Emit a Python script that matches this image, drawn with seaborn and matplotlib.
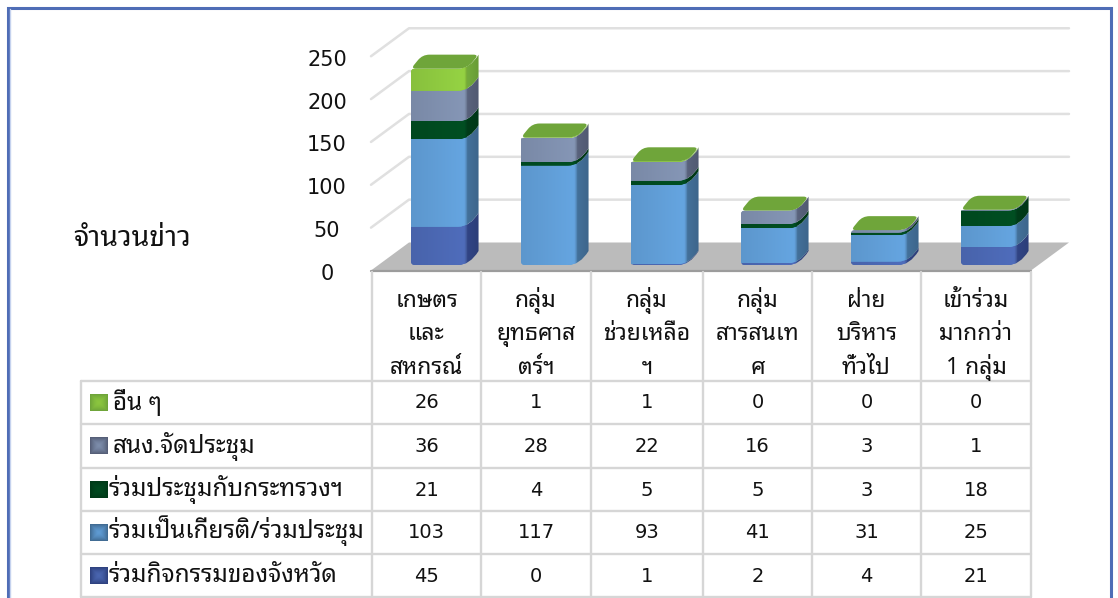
import matplotlib
matplotlib.use('Agg')
import numpy as np
import pandas as pd
import matplotlib.pyplot as plt
import seaborn as sns
from matplotlib.path import Path
from matplotlib.patches import PathPatch, Polygon
from matplotlib.colors import to_rgb

W, H = 1118, 598
THAI = ['Noto Sans Thai Looped', 'Loma', 'Noto Sans Thai', 'DejaVu Sans']
NUM = ['DejaVu Sans']

# ---------- data ----------
categories = ['เกษตร\nและ\nสหกรณ์', 'กลุ่ม\nยุทธศาส\nตร์ฯ', 'กลุ่ม\nช่วยเหลือ\nฯ',
              'กลุ่ม\nสารสนเท\nศ', 'ฝ่าย\nบริหาร\nทั่วไป', 'เข้าร่วม\nมากกว่า\n1 กลุ่ม']
s_province = [45, 0, 1, 2, 4, 21]
s_honor = [103, 117, 93, 41, 31, 25]
s_ministry = [21, 4, 5, 5, 3, 18]
s_office = [36, 28, 22, 16, 3, 1]
s_other = [26, 1, 1, 0, 0, 0]
series_names = ['ร่วมกิจกรรมของจังหวัด', 'ร่วมเป็นเกียรติ/ร่วมประชุม', 'ร่วมประชุมกับกระทรวงฯ',
                'สนง.จัดประชุม', 'อื่น ๆ']
series_values = [s_province, s_honor, s_ministry, s_office, s_other]
y_ticks = [0, 50, 100, 150, 200, 250]
y_title = 'จำนวนข่าว'

front_cols = ['#4A66B0', '#5F9BD3', '#004A20', '#7D8DAB', '#8CC63F']
side_cols = ['#2F4280', '#416C94', '#003A18', '#565F78', '#6FA53A']
top_col = '#6FA53A'
INK = '#111111'

sns.set_theme(style='white')
plt.rcParams['font.family'] = THAI
fig = plt.figure(figsize=(W / 100, H / 100), dpi=100, facecolor='white')

def px_axes(l, t, r, b):
    return fig.add_axes([l / W, 1 - b / H, (r - l) / W, (b - t) / H])

bg = fig.add_axes([0, 0, 1, 1], zorder=0)
bg.set_xlim(0, W); bg.set_ylim(H, 0); bg.axis('off')

PX = 0.85
SX = 110.0
Y0 = 265
ax = px_axes(384, Y0 - 250 * PX, 1044, Y0)
ax.set_zorder(1); ax.patch.set_alpha(0)

# frame
FR = '#4F6DB6'
bg.plot([8, 8, 1111, 1111], [H + 3, 7.5, 7.5, H + 3], color=FR, lw=2.2, solid_joinstyle='miter')
bg.plot([10, 10], [9, H + 3], color='#C5D2EE', lw=1)

# walls and floor
FX, FY0 = 371, 270.5
FW = 660
DX, DY = 38, -28
FSCALE = 0.857
GRID = '#E0E0E0'
bg.add_patch(Polygon([(FX, FY0), (FX + DX, FY0 + DY), (FX + DX + FW, FY0 + DY), (FX + FW, FY0)],
                     closed=True, fc='#BBBBBB', ec='none', zorder=1))
bg.plot([FX, FX + FW], [FY0, FY0], color='#9C9C9C', lw=1.6, zorder=2)
for v in y_ticks:
    yf = FY0 - v * FSCALE
    if v > 0:
        bg.plot([FX, FX + DX, FX + DX + FW], [yf, yf + DY, yf + DY], color=GRID, lw=1.8, zorder=1)
    bg.text(327, yf + 3.5, str(v), ha='center', va='center', fontsize=15,
            family=NUM, color=INK)
bg.text(132, 246, y_title, ha='center', va='baseline', fontsize=20.5, color=INK)

# stacked bars: fronts through seaborn
rows = []
bottoms = np.zeros(len(categories))
for name, vals in zip(series_names, series_values):
    for i, v in enumerate(vals):
        rows.append(dict(cat=i, series=name, value=v, bottom=bottoms[i]))
    bottoms = bottoms + np.array(vals)
df = pd.DataFrame(rows)
BW = 0.51
for k, name in enumerate(series_names):
    d = df[df.series == name]
    sns.barplot(data=d, x='cat', y='value', bottom=d['bottom'].values, color=front_cols[k],
                width=BW, saturation=1, ax=ax, errorbar=None, linewidth=0, zorder=2)
ax.set_xlim(-0.5, 5.5)
ax.set_ylim(0, 250)
ax.axis('off')

dx = 11.5 / SX
dy = 14 / PX
RC = 9 / SX       # how far the corner bend reaches into the front face

def silhouette(x0, x1, total):
    rx, ry = 4 / SX, 4 / PX
    v = [(x0 + rx, 0), (x1 - RC, 0), (x1 + 0.25 * dx, 0), (x1 + dx, dy),
         (x1 + dx, total + dy), (x1 + 0.25 * dx, total), (x1 - RC, total),
         (x0 + rx, total), (x0, total), (x0, total - ry), (x0, ry), (x0, 0), (x0 + rx, 0), (x0 + rx, 0)]
    c = [Path.MOVETO, Path.LINETO, Path.CURVE3, Path.CURVE3,
         Path.LINETO, Path.CURVE3, Path.CURVE3,
         Path.LINETO, Path.CURVE3, Path.CURVE3, Path.LINETO, Path.CURVE3, Path.CURVE3, Path.CLOSEPOLY]
    return Path(v, c)

def bevel_path(x0, x1, b, t, first, last):
    rx, ry = 4 / SX, 4 / PX
    v, c = [], []
    if first:
        v += [(x0 + rx, b)]; c += [Path.MOVETO]
    else:
        v += [(x0, b)]; c += [Path.MOVETO]
    v += [(x1 - RC, b), (x1 + 0.25 * dx, b), (x1 + dx, b + dy),
          (x1 + dx, t + dy), (x1 + 0.25 * dx, t), (x1 - RC, t)]
    c += [Path.LINETO, Path.CURVE3, Path.CURVE3, Path.LINETO, Path.CURVE3, Path.CURVE3]
    if last:
        v += [(x0 + rx, t), (x0, t), (x0, t - ry)]
        c += [Path.LINETO, Path.CURVE3, Path.CURVE3]
    else:
        v += [(x0, t)]; c += [Path.LINETO]
    if first:
        v += [(x0, b + ry), (x0, b), (x0 + rx, b)]
        c += [Path.LINETO, Path.CURVE3, Path.CURVE3]
    v += [v[0]]; c += [Path.CLOSEPOLY]
    return Path(v, c)

def top_path(x0, x1, total):
    A = (x0, total); B = (x1, total); C = (x1 + dx, total + dy); D = (x0 + dx, total + dy)
    pts = [A, B, C, D]
    def lerp(p, q, px):
        ex, ey = (q[0] - p[0]) * SX, (q[1] - p[1]) * PX
        L = np.hypot(ex, ey)
        f = min(px / L, 0.48)
        return (p[0] + (q[0] - p[0]) * f, p[1] + (q[1] - p[1]) * f)
    reach = [5, 9, 5, 7]
    v, c = [], []
    for i, P in enumerate(pts):
        prev = pts[i - 1]; nxt = pts[(i + 1) % 4]
        a = lerp(P, prev, reach[i]); b = lerp(P, nxt, reach[i])
        if i == 0:
            v.append(a); c.append(Path.MOVETO)
        else:
            v.append(a); c.append(Path.LINETO)
        v += [P, b]; c += [Path.CURVE3, Path.CURVE3]
    v.append(v[0]); c.append(Path.CLOSEPOLY)
    return Path(v, c)

def gradient(front, side, x0, x1):
    n = 160
    xs = np.linspace(x0, x1 + dx, n)
    f = np.array(to_rgb(front)); s = np.array(to_rgb(side))
    img = np.zeros((1, n, 3))
    for j, x in enumerate(xs):
        if x <= x1:
            u = (x - x0) / (x1 - x0)
            g = 0.97 + 0.09 * min(u / 0.88, 1.0) - 0.25 * max(u - 0.95, 0) / 0.05
            img[0, j] = np.clip(f * g, 0, 1)
        else:
            w = (x - x1) / dx
            img[0, j] = s * (1.04 - 0.10 * w)
    return np.clip(img, 0, 1)

for i in range(len(categories)):
    x0, x1 = i - BW / 2, i + BW / 2
    total = sum(vals[i] for vals in series_values)
    clip = PathPatch(silhouette(x0, x1, total), transform=ax.transData, fc='none', ec='none')
    ax.add_patch(clip)
    for cont in ax.containers:
        cont[i].set_clip_path(clip)
    b = 0.0
    nz = [k for k, vals in enumerate(series_values) if vals[i] > 0]
    for k in nz:
        t = b + series_values[k][i]
        p = PathPatch(bevel_path(x0, x1, b, t, k == nz[0], k == nz[-1]),
                      transform=ax.transData, fc='none', ec='none')
        ax.add_patch(p)
        im = ax.imshow(gradient(front_cols[k], side_cols[k], x0, x1),
                       extent=(x0, x1 + dx, b, t + dy), aspect='auto', zorder=3 + k * 0.1,
                       interpolation='bilinear')
        im.set_clip_path(p)
        b = t
    ax.add_patch(PathPatch(top_path(x0, x1, total), fc=top_col, ec='none', zorder=4))
ax.set_xlim(-0.5, 5.5)
ax.set_ylim(0, 250)

# table
LINE = '#D6D6D6'
col_x = [372, 481, 591, 703, 812, 921, 1031]
row_y = [381, 424, 468, 511, 554, 597]
LEFT = 81
for x in col_x:
    bg.plot([x, x], [272, row_y[-1]], color=LINE, lw=1.7, zorder=2)
bg.plot([LEFT, LEFT], [row_y[0], row_y[-1]], color=LINE, lw=1.7)
for y in row_y:
    bg.plot([LEFT, col_x[-1]], [y, y], color=LINE, lw=1.7)
centers = [(col_x[i] + col_x[i + 1]) / 2 for i in range(6)]
for xc, label in zip(centers, categories):
    for yy, part in zip([307, 340, 374], label.split('\n')):
        bg.text(xc, yy, part, ha='center', va='baseline', fontsize=16.5, color=INK)

def key_image(front, side):
    n = 18
    u = np.linspace(-1, 1, n)
    xx, yy = np.meshgrid(u, u)
    t = np.maximum(np.abs(xx), np.abs(yy)) ** 1.6
    f = np.array(to_rgb(front)); s = np.array(to_rgb(side))
    return f[None, None, :] * (1 - t[..., None]) + s[None, None, :] * t[..., None]

text_x = [109, 109, 109, 113, 113]
base_y = [410, 453, 496, 538, 582]
for r, k in enumerate(range(4, -1, -1)):
    yc = (row_y[r] + row_y[r + 1]) / 2
    bg.imshow(key_image(front_cols[k], side_cols[k]), extent=(90, 108, yc + 8.5, yc - 8.5),
              aspect='auto', interpolation='bilinear', zorder=2)
    bg.text(text_x[k], base_y[r], series_names[k], ha='left', va='baseline', fontsize=17.5, color=INK)
    for xc, v in zip(centers, series_values[k]):
        bg.text(xc, yc + 0.5, str(v), ha='center', va='center', fontsize=14, family=NUM, color=INK)
bg.set_xlim(0, W); bg.set_ylim(H, 0)

fig.savefig('out.png', dpi=100, facecolor='white')
